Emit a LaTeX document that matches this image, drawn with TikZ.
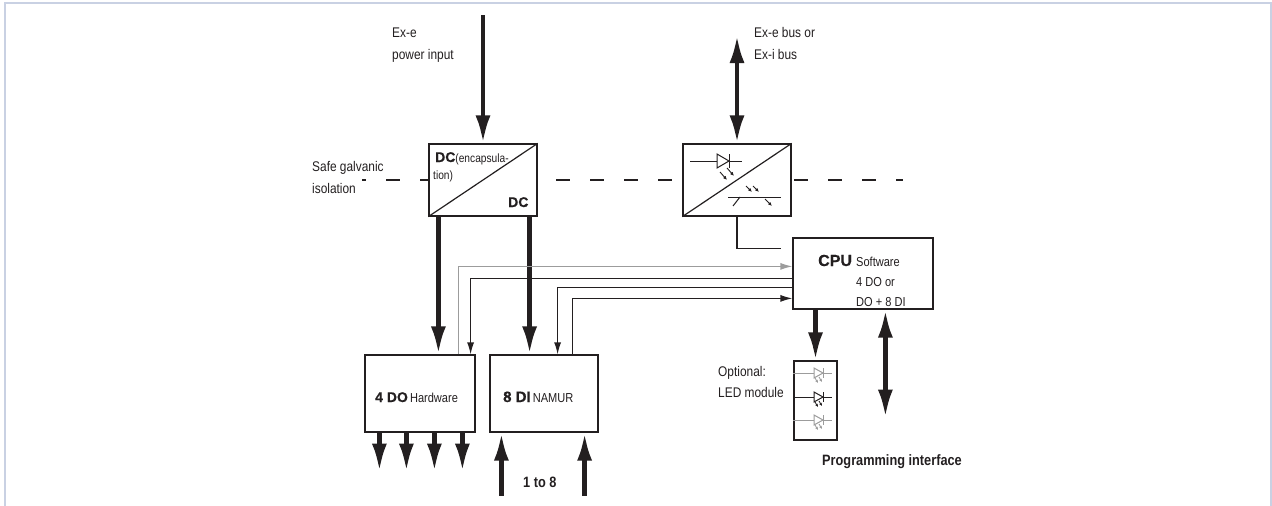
\documentclass[tikz,border=0pt]{standalone}
\usepackage{fontspec}
\setmainfont{Liberation Sans}[FakeStretch=0.85]
\newfontfamily\widefont{Liberation Sans}[BoldFeatures={FakeBold=0.6}]
\usetikzlibrary{arrows.meta,calc}
\definecolor{framec}{HTML}{C9D1E3}
\definecolor{sgray}{HTML}{9C9C9C}
\definecolor{ink}{HTML}{231F20}
\begin{document}
\begin{tikzpicture}[x=1pt,y=-1pt,
  box/.style={draw=ink, line width=1.2pt, fill=white, inner sep=0pt},
  lbl/.style={inner sep=0pt, anchor=base west, font=\fontsize{14}{17}\selectfont, text=ink},
  slbl/.style={inner sep=0pt, anchor=base west, font=\fontsize{13}{16}\selectfont, text=ink},
  bw/.style={inner sep=0pt, anchor=base west, font=\widefont\bfseries\fontsize{15}{18}\selectfont, text=ink},
  fat/.style={draw=ink, line width=4.6pt, -{Latex[length=28pt,width=15pt]}},
  fatboth/.style={draw=ink, line width=4.6pt, {Latex[length=28pt,width=15pt]}-{Latex[length=28pt,width=15pt]}},
  sig/.style={draw=ink, line width=1.2pt},
  sigarrow/.style={sig, -{Latex[length=12pt,width=7pt]}},
  sym/.style={draw=ink, line width=1pt},
  tiny/.style={draw=ink, line width=0.9pt, -{Latex[length=4pt,width=3.5pt]}},
]
\useasboundingbox (0,0) rectangle (1272,506);
\draw[framec, line width=1.5pt] (5,3) rectangle (1271,512);

% isolation line
\draw[ink, line width=1.2pt, dash pattern=on 14pt off 20pt, dash phase=10pt] (362,180) -- (903,180);

% boxes
\node[box, minimum width=108pt, minimum height=72pt] (dc) at (483,180) {};
\node[box, minimum width=108pt, minimum height=72pt] (opto) at (737,180) {};
\node[box, minimum width=140pt, minimum height=71pt] (cpu) at (863,273.5) {};
\node[box, minimum width=110pt, minimum height=77pt] (do) at (420,393.5) {};
\node[box, minimum width=108pt, minimum height=77pt] (di) at (544,393.5) {};
\node[box, minimum width=43pt, minimum height=79pt] (led) at (815.5,400.5) {};

\draw[sym, line width=1.2pt] (dc.south west) -- (dc.north east);
\draw[sym, line width=1.2pt] (opto.south west) -- (opto.north east);

% DC texts
\node[lbl] (dct) at (435,162) {{\widefont\bfseries\fontsize{14}{17}\selectfont DC}{\fontsize{12}{14}\selectfont(encapsula-}};
\node[lbl, font=\fontsize{12}{14}\selectfont] (dct2) at (433,179) {tion)};
\node[bw, font=\widefont\bfseries\fontsize{14}{17}\selectfont] (dcb) at (508,207) {DC};

% opto symbols
\draw[sym] (690,161) -- (742,161);
\draw[sym, fill=white] (717,154) -- (717,168) -- (729,161) -- cycle;
\draw[sym] (729,154) -- (729,168);
\draw[tiny] (720,172) -- (727,180);
\draw[tiny] (727,168) -- (734,176);
\draw[sym] (728,197) -- (781,197);
\draw[sym] (733,206) -- (740,197);
\draw[tiny] (765,199) -- (772,206);
\draw[tiny] (746,186) -- (752,192);
\draw[tiny] (753,186) -- (759,192);

% top labels and arrows
\node[lbl] (exe1) at (392,37) {Ex-e};
\node[lbl] (exe2) at (392,59) {power input};
\node[lbl] (bus1) at (754,37) {Ex-e bus or};
\node[lbl] (bus2) at (754,59) {Ex-i bus};
\node[lbl] (safe1) at (312,171) {Safe galvanic};
\node[lbl] (safe2) at (312,193) {isolation};

\coordinate (pin) at (483,15);
\coordinate (bus) at (737,35);
\draw[fat] (pin) -- (dc.north);
\draw[fatboth] (bus) -- (opto.north);

% DC outputs
\draw[fat] ([xshift=10pt]dc.south west) -- ([xshift=10pt]dc.south west |- do.north);
\draw[fat] ([xshift=-8pt]dc.south east) -- ([xshift=-8pt]dc.south east |- di.north);

% opto to CPU
\draw[sig] (opto.south) |- ([xshift=-11pt,yshift=-11pt]cpu.north west);

% signal lines
\draw[sigarrow, draw=sgray, {Latex[length=12pt,width=7pt]}-] ([yshift=-29pt]cpu.north west) -| ([xshift=-17pt]do.north east);
\draw[sigarrow] ([yshift=-41pt]cpu.north west) -| ([xshift=-5pt]do.north east);
\draw[sigarrow] ([yshift=-50pt]cpu.north west) -| ([xshift=-41pt]di.north east);
\draw[sigarrow] ([xshift=-26pt]di.north east) |- ([yshift=-61pt]cpu.north west);

% CPU text
\node[bw, font=\widefont\bfseries\fontsize{16}{19}\selectfont] (cput) at (818,266) {CPU};
\node[slbl] (cpu1) at (856,266) {Software};
\node[slbl] (cpu2) at (856,286) {4 DO or};
\node[slbl] (cpu3) at (856,306) {DO + 8 DI};

% DO / DI text
\node[slbl] (dot) at (375,402) {{\widefont\bfseries\fontsize{14}{17}\selectfont 4 DO}\,Hardware};
\node[slbl] (dit) at (503,402) {{\widefont\bfseries\fontsize{15}{18}\selectfont 8 DI}\,NAMUR};

% DO outputs
\foreach \dx/\nm in {15/o1,42/o2,70/o3,98/o4}{
  \coordinate (\nm) at ($(do.south west)+(\dx,39)$);
  \draw[fat] ([xshift=\dx pt]do.south west) -- (\nm);
}
% DI inputs
\coordinate (i1) at ($(di.south west)+(12,63)$);
\coordinate (i2) at ($(di.south east)+(-14,63)$);
\draw[fat] (i1) -- ([xshift=12pt]di.south west);
\draw[fat] (i2) -- ([xshift=-14pt]di.south east);
\node[lbl, font=\bfseries\fontsize{15}{18}\selectfont] (one8) at (523,487) {1 to 8};

% CPU to LED, programming interface
\draw[fat] (cpu.south -| led.north) -- (led.north);
\coordinate (prog) at ($(cpu.south west)+(93,108)$);
\draw[fatboth] ([xshift=93pt]cpu.south west) -- (prog);
\node[lbl, font=\bfseries\fontsize{15}{18}\selectfont] (progt) at (822,465) {Programming interface};

\node[lbl] (opt1) at (718,376) {Optional:};
\node[lbl] (opt2) at (718,397) {LED module};

% LED symbols
\foreach \yy/\cc in {373/sgray,397/ink,420/sgray}{
  \draw[\cc, line width=1pt] (led.west |- 0,\yy) -- (832,\yy);
  \draw[\cc, line width=1pt, fill=white] (814,\yy-5) -- (814,\yy+5) -- (823,\yy) -- cycle;
  \draw[\cc, line width=1pt] (823,\yy-5) -- (823,\yy+5);
  \draw[\cc, line width=0.8pt, -{Latex[length=3pt,width=3pt]}] (815,\yy+5) -- (818,\yy+10);
  \draw[\cc, line width=0.8pt, -{Latex[length=3pt,width=3pt]}] (819,\yy+4) -- (822,\yy+9);
}
\end{tikzpicture}
\end{document}
